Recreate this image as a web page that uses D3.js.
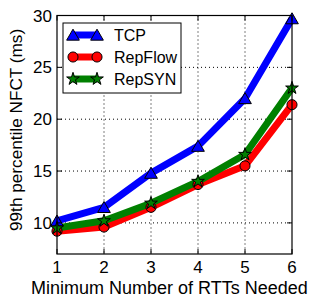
<!DOCTYPE html>
<html><head><meta charset="utf-8">
<script src="https://cdn.jsdelivr.net/npm/d3@7/dist/d3.min.js"></script>
<style>body{margin:0;background:#fff}svg{display:block}</style>
</head><body>
<svg id="c" width="321" height="301"></svg>
<script>
const xValues = [1, 2, 3, 4, 5, 6];
const tcp = [10.2, 11.5, 14.8, 17.4, 22.0, 29.7];
const repFlow = [9.2, 9.6, 11.5, 13.7, 15.5, 21.4];
const repSyn = [9.5, 10.2, 11.9, 14.0, 16.6, 23.0];
const xTicks = [1, 2, 3, 4, 5, 6];
const yTicks = [10, 15, 20, 25, 30];
const seriesNames = ["TCP", "RepFlow", "RepSYN"];

const svg = d3.select("#c");
const L = 57, R = 292, T = 15.5, B = 254;
const x = d3.scaleLinear().domain([1, 6]).range([L, R]);
const y = d3.scaleLinear().domain([7, 30]).range([B, T]);
const font = "Liberation Sans, Arial, sans-serif";

// grid
const g = svg.append("g");
g.selectAll(".gx").data(xTicks.slice(1, -1)).enter().append("line")
  .attr("x1", d => x(d)).attr("x2", d => x(d)).attr("y1", T).attr("y2", B)
  .attr("stroke", "#000").attr("stroke-width", 1).attr("stroke-dasharray", "1,3");
g.selectAll(".gy").data(yTicks.filter(v => v < 30)).enter().append("line")
  .attr("y1", d => y(d)).attr("y2", d => y(d)).attr("x1", L).attr("x2", R)
  .attr("stroke", "#000").attr("stroke-width", 1).attr("stroke-dasharray", "1,3");

const series = [
  {name: seriesNames[0], vals: tcp, color: "#0000ff", marker: "tri"},
  {name: seriesNames[1], vals: repFlow, color: "#ff0000", marker: "circ"},
  {name: seriesNames[2], vals: repSyn, color: "#008000", marker: "star"}
];
const line = d3.line().x((d, i) => x(xValues[i])).y(d => y(d));
const sym = {tri: d3.symbol().type(d3.symbolTriangle).size(70),
             circ: d3.symbol().type(d3.symbolCircle).size(80),
             star: d3.symbol().type(d3.symbolStar).size(50)};

const plot = svg.append("g");
series.forEach(s => {
  plot.append("path").datum(s.vals).attr("d", line).attr("fill", "none")
    .attr("stroke", s.color).attr("stroke-width", 7).attr("stroke-linejoin", "round");
});
series.forEach(s => {
  plot.selectAll(null).data(s.vals).enter().append("path")
    .attr("d", sym[s.marker])
    .attr("transform", (d, i) => `translate(${x(xValues[i])},${y(d) + (s.marker === "tri" ? 1.5 : 0)})`)
    .attr("fill", s.color).attr("stroke", "#000").attr("stroke-width", 1);
});

// frame
svg.append("rect").attr("x", L).attr("y", T).attr("width", R - L).attr("height", B - T)
  .attr("fill", "none").attr("stroke", "#000").attr("stroke-width", 1.2);

// ticks inward
const ax = svg.append("g");
xTicks.forEach(v => {
  ax.append("line").attr("x1", x(v)).attr("x2", x(v)).attr("y1", B).attr("y2", B - 5).attr("stroke", "#000");
  ax.append("line").attr("x1", x(v)).attr("x2", x(v)).attr("y1", T).attr("y2", T + 5).attr("stroke", "#000");
  ax.append("text").attr("x", x(v)).attr("y", B + 19).attr("text-anchor", "middle")
    .attr("font-family", font).attr("font-size", 17).text(v);
});
yTicks.forEach(v => {
  ax.append("line").attr("y1", y(v)).attr("y2", y(v)).attr("x1", L).attr("x2", L + 5).attr("stroke", "#000");
  ax.append("line").attr("y1", y(v)).attr("y2", y(v)).attr("x1", R).attr("x2", R - 5).attr("stroke", "#000");
  ax.append("text").attr("x", L - 5).attr("y", y(v) + 6).attr("text-anchor", "end")
    .attr("font-family", font).attr("font-size", 17).text(v);
});

svg.append("text").attr("x", 31).attr("y", 294)
  .attr("font-family", font).attr("font-size", 18)
  .text("Minimum Number of RTTs Needed");
svg.append("text").attr("transform", `translate(22,231) rotate(-90)`)
  .attr("font-family", font).attr("font-size", 17.2)
  .text("99th percentile NFCT (ms)");

// legend
const lg = svg.append("g");
lg.append("rect").attr("x", 63).attr("y", 23).attr("width", 118).attr("height", 70)
  .attr("fill", "#fff").attr("stroke", "#000").attr("stroke-width", 1);
series.forEach((s, i) => {
  const yy = 35 + i * 22;
  lg.append("line").attr("x1", 73).attr("x2", 97).attr("y1", yy).attr("y2", yy)
    .attr("stroke", s.color).attr("stroke-width", 7);
  [73, 97].forEach(xx => lg.append("path").attr("d", sym[s.marker])
    .attr("transform", `translate(${xx},${yy + (s.marker === "tri" ? 1.5 : 0)})`)
    .attr("fill", s.color).attr("stroke", "#000").attr("stroke-width", 1));
  lg.append("text").attr("x", 114).attr("y", yy + 6).attr("font-family", font)
    .attr("font-size", 16).text(s.name);
});
</script>
</body></html>
